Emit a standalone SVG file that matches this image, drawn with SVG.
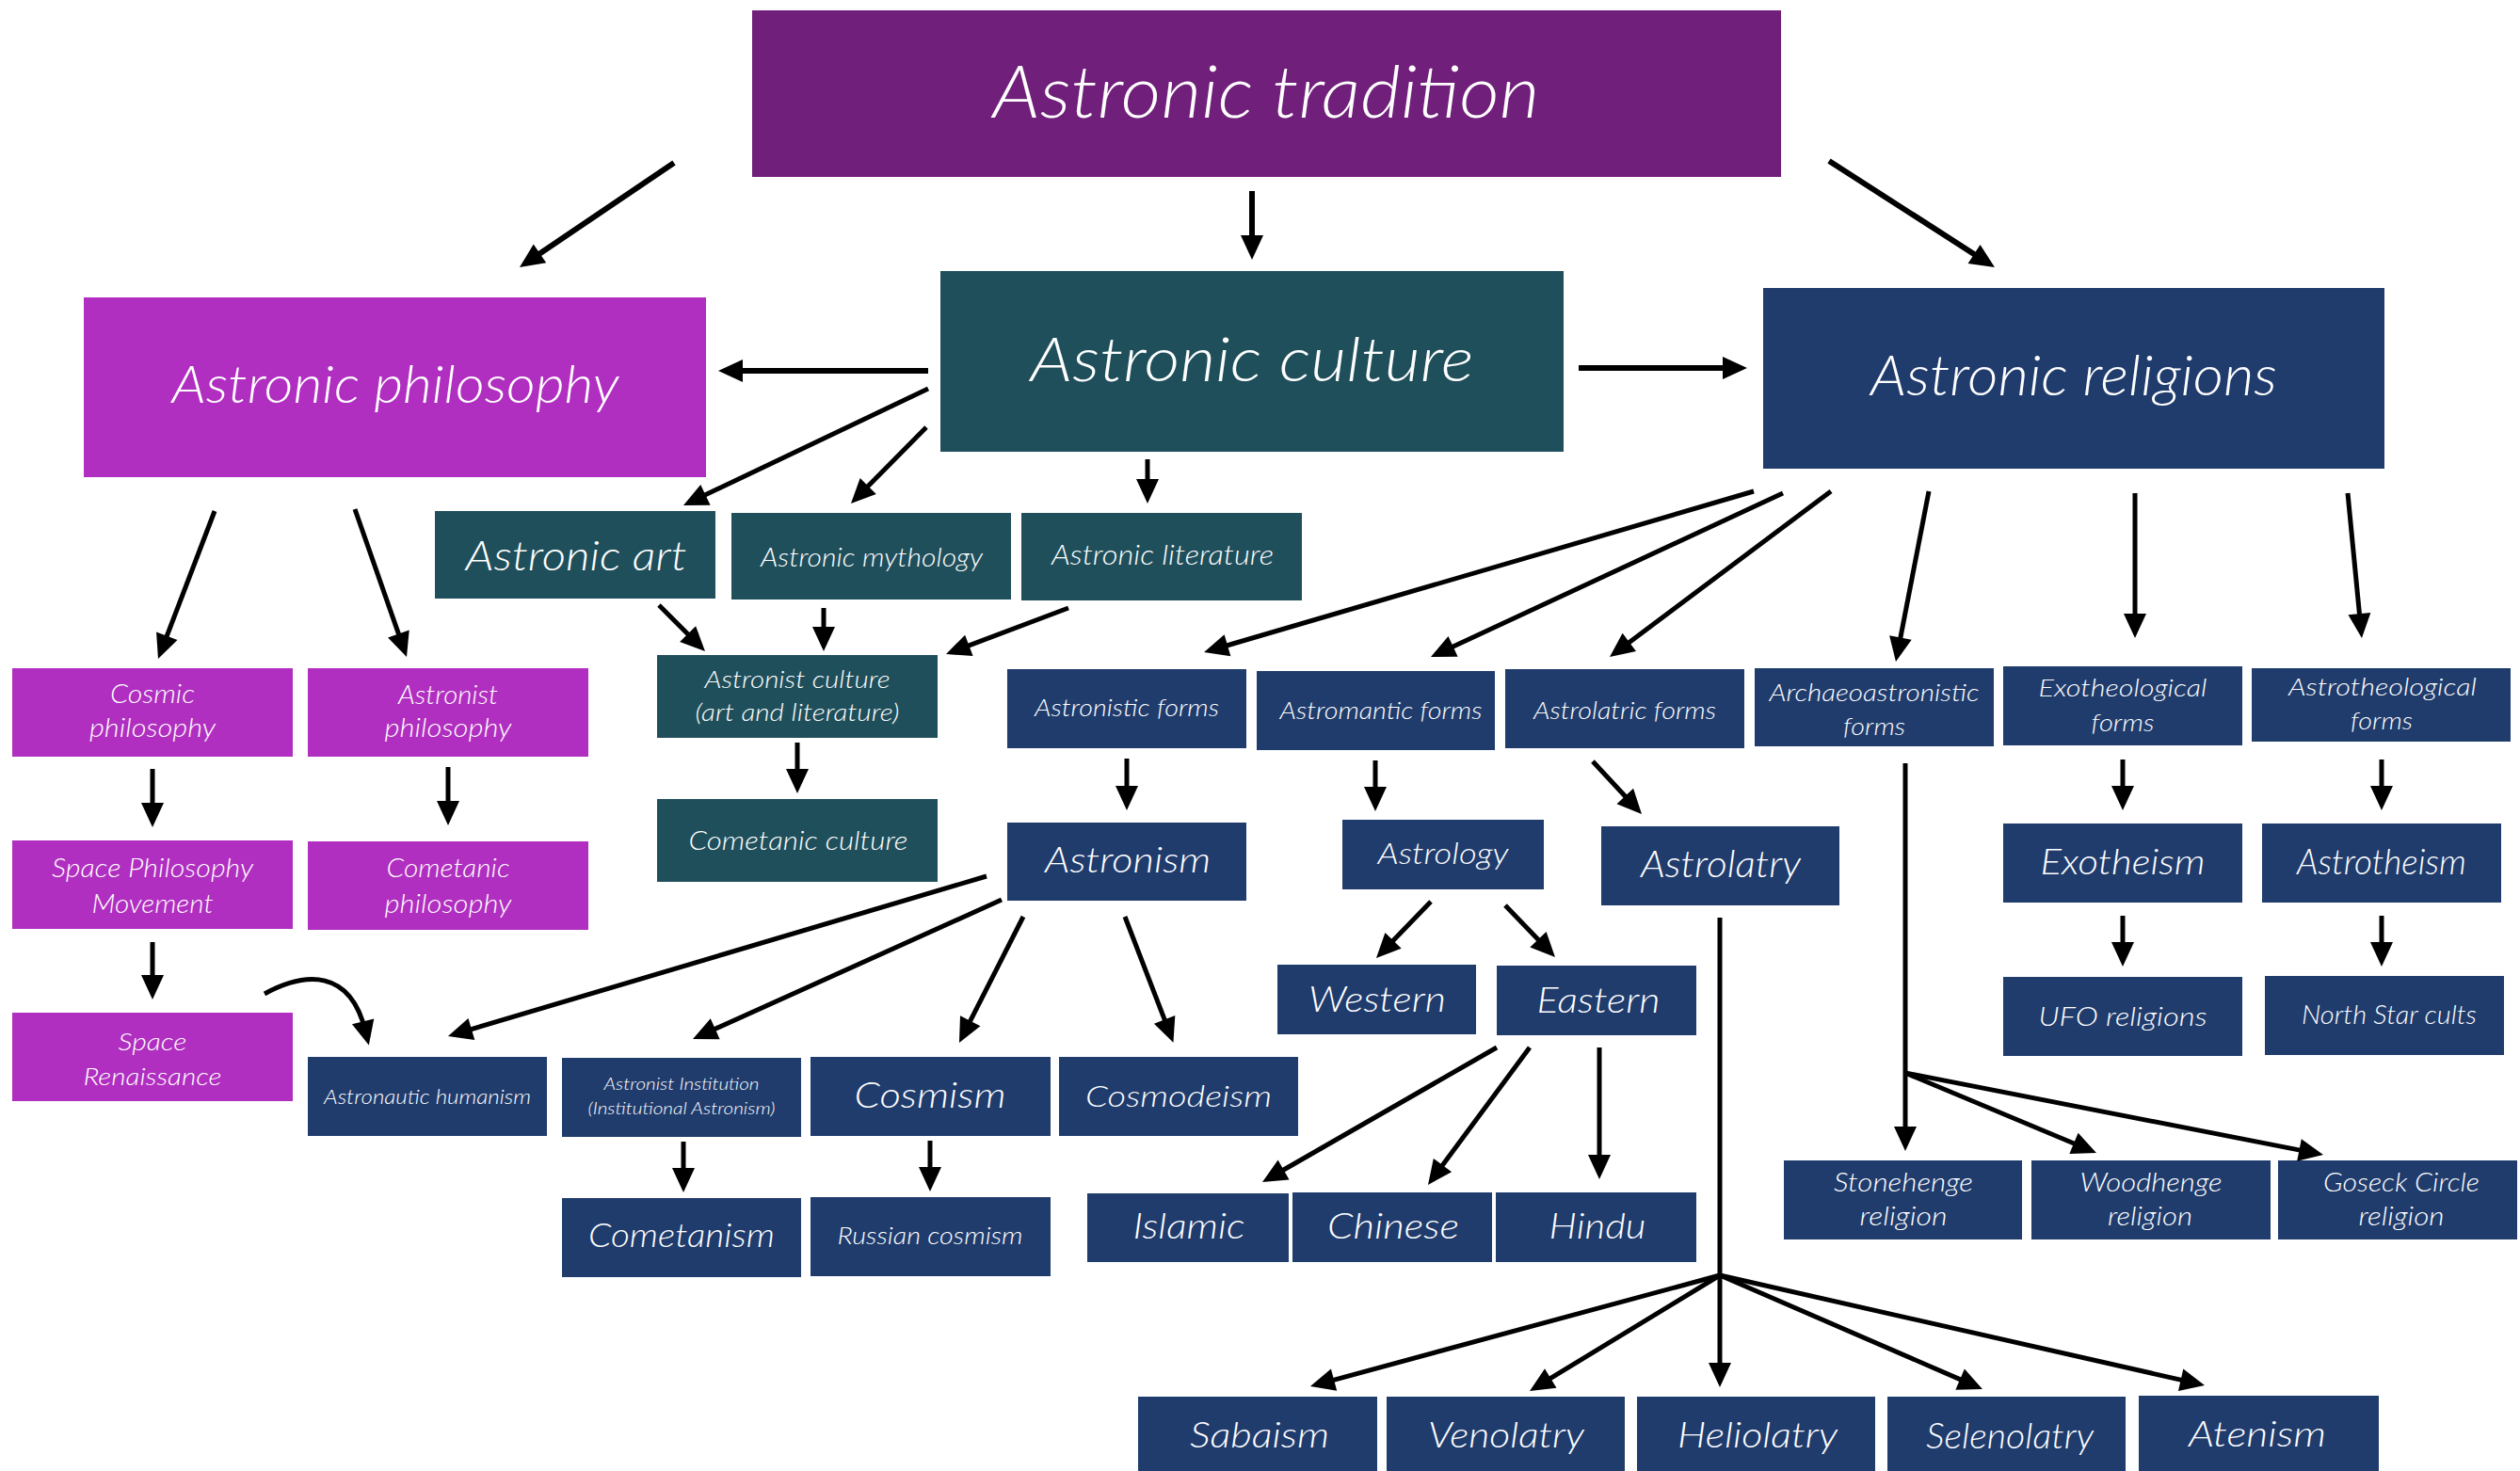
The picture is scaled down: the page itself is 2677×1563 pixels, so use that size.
<svg xmlns="http://www.w3.org/2000/svg" width="2677" height="1563" viewBox="0 0 2677 1563">
<style>
.t{font-family:Lato,"Open Sans","Liberation Sans",sans-serif;font-style:italic;font-weight:300;fill:#fff;text-anchor:middle}
.trad{fill:#701F7A}.phil{fill:#B02FC0}.cult{fill:#204F5C}.rel{fill:#203C6D}
.c path,.c line{stroke:#000;stroke-width:5;fill:none}
.c .a{marker-end:url(#ah)}
.c .w{stroke-width:6}
</style>
<defs>
<marker id="ah" markerUnits="userSpaceOnUse" markerWidth="26" markerHeight="24" refX="10" refY="12" orient="auto" overflow="visible">
<path d="M0,0 L26,12 L0,24 z" fill="#000"/>
</marker>
</defs>
<rect width="2677" height="1563" fill="#fff"/>

<g id="n-tradition"><rect class="trad" x="799" y="11" width="1093" height="177"/><text class="t" x="1345" y="125" font-size="76" textLength="581" lengthAdjust="spacingAndGlyphs">Astronic tradition</text></g>
<g id="n-culture"><rect class="cult" x="999" y="288" width="662" height="192"/><text class="t" x="1330" y="405" font-size="66" textLength="471" lengthAdjust="spacingAndGlyphs">Astronic culture</text></g>
<g id="n-religions"><rect class="rel" x="1873" y="306" width="660" height="192"/><text class="t" x="2203" y="420" font-size="60" textLength="432" lengthAdjust="spacingAndGlyphs">Astronic religions</text></g>
<g id="n-philosophy"><rect class="phil" x="89" y="316" width="661" height="191"/><text class="t" x="420" y="428" font-size="56" textLength="475" lengthAdjust="spacingAndGlyphs">Astronic philosophy</text></g>

<g id="n-art"><rect class="cult" x="462" y="543" width="298" height="93"/><text class="t" x="612" y="606" font-size="44" textLength="235" lengthAdjust="spacingAndGlyphs">Astronic art</text></g>
<g id="n-mythology"><rect class="cult" x="777" y="545" width="297" height="92"/><text class="t" x="926" y="602" font-size="28" textLength="236" lengthAdjust="spacingAndGlyphs">Astronic mythology</text></g>
<g id="n-literature"><rect class="cult" x="1085" y="545" width="298" height="93"/><text class="t" x="1235" y="600" font-size="29" textLength="236" lengthAdjust="spacingAndGlyphs">Astronic literature</text></g>
<g id="n-astronist-culture"><rect class="cult" x="698" y="696" width="298" height="88"/><text class="t" x="847" y="731" font-size="25" textLength="197" lengthAdjust="spacingAndGlyphs">Astronist culture</text><text class="t" x="847" y="766" font-size="25" textLength="217" lengthAdjust="spacingAndGlyphs">(art and literature)</text></g>
<g id="n-cometanic-culture"><rect class="cult" x="698" y="849" width="298" height="88"/><text class="t" x="848" y="903" font-size="27" textLength="233" lengthAdjust="spacingAndGlyphs">Cometanic culture</text></g>

<g id="n-cosmic-philosophy"><rect class="phil" x="13" y="710" width="298" height="94"/><text class="t" x="162" y="747" font-size="27" textLength="90" lengthAdjust="spacingAndGlyphs">Cosmic</text><text class="t" x="162" y="783" font-size="27" textLength="134" lengthAdjust="spacingAndGlyphs">philosophy</text></g>
<g id="n-astronist-philosophy"><rect class="phil" x="327" y="710" width="298" height="94"/><text class="t" x="476" y="748" font-size="27" textLength="106" lengthAdjust="spacingAndGlyphs">Astronist</text><text class="t" x="476" y="783" font-size="27" textLength="135" lengthAdjust="spacingAndGlyphs">philosophy</text></g>
<g id="n-space-philosophy-movement"><rect class="phil" x="13" y="893" width="298" height="94"/><text class="t" x="162" y="932" font-size="27" textLength="214" lengthAdjust="spacingAndGlyphs">Space Philosophy</text><text class="t" x="162" y="970" font-size="27" textLength="129" lengthAdjust="spacingAndGlyphs">Movement</text></g>
<g id="n-cometanic-philosophy"><rect class="phil" x="327" y="894" width="298" height="94"/><text class="t" x="476" y="932" font-size="27" textLength="131" lengthAdjust="spacingAndGlyphs">Cometanic</text><text class="t" x="476" y="970" font-size="27" textLength="135" lengthAdjust="spacingAndGlyphs">philosophy</text></g>
<g id="n-space-renaissance"><rect class="phil" x="13" y="1076" width="298" height="94"/><text class="t" x="162" y="1116" font-size="26" textLength="73" lengthAdjust="spacingAndGlyphs">Space</text><text class="t" x="162" y="1153" font-size="26" textLength="147" lengthAdjust="spacingAndGlyphs">Renaissance</text></g>

<g id="n-astronautic-humanism"><rect class="rel" x="327" y="1123" width="254" height="84"/><text class="t" x="454" y="1173" font-size="22" textLength="220" lengthAdjust="spacingAndGlyphs">Astronautic humanism</text></g>
<g id="n-astronist-institution"><rect class="rel" x="597" y="1124" width="254" height="84"/><text class="t" x="724" y="1158" font-size="18" textLength="165" lengthAdjust="spacingAndGlyphs">Astronist Institution</text><text class="t" x="724" y="1184" font-size="18" textLength="199" lengthAdjust="spacingAndGlyphs">(Institutional Astronism)</text></g>
<g id="n-cosmism"><rect class="rel" x="861" y="1123" width="255" height="84"/><text class="t" x="988" y="1177" font-size="37" textLength="161" lengthAdjust="spacingAndGlyphs">Cosmism</text></g>
<g id="n-cosmodeism"><rect class="rel" x="1125" y="1123" width="254" height="84"/><text class="t" x="1252" y="1176" font-size="32" textLength="198" lengthAdjust="spacingAndGlyphs">Cosmodeism</text></g>
<g id="n-cometanism"><rect class="rel" x="597" y="1273" width="254" height="84"/><text class="t" x="724" y="1325" font-size="35" textLength="198" lengthAdjust="spacingAndGlyphs">Cometanism</text></g>
<g id="n-russian-cosmism"><rect class="rel" x="861" y="1272" width="255" height="84"/><text class="t" x="988" y="1322" font-size="25" textLength="197" lengthAdjust="spacingAndGlyphs">Russian cosmism</text></g>

<g id="n-astronistic-forms"><rect class="rel" x="1070" y="711" width="254" height="84"/><text class="t" x="1197" y="761" font-size="26" textLength="196" lengthAdjust="spacingAndGlyphs">Astronistic forms</text></g>
<g id="n-astromantic-forms"><rect class="rel" x="1335" y="713" width="253" height="84"/><text class="t" x="1467" y="764" font-size="26" textLength="215" lengthAdjust="spacingAndGlyphs">Astromantic forms</text></g>
<g id="n-astrolatric-forms"><rect class="rel" x="1599" y="711" width="254" height="84"/><text class="t" x="1726" y="764" font-size="26" textLength="194" lengthAdjust="spacingAndGlyphs">Astrolatric forms</text></g>
<g id="n-archaeoastronistic-forms"><rect class="rel" x="1864" y="710" width="254" height="83"/><text class="t" x="1991" y="745" font-size="26" textLength="223" lengthAdjust="spacingAndGlyphs">Archaeoastronistic</text><text class="t" x="1991" y="781" font-size="26" textLength="66" lengthAdjust="spacingAndGlyphs">forms</text></g>
<g id="n-exotheological-forms"><rect class="rel" x="2128" y="708" width="254" height="84"/><text class="t" x="2255" y="740" font-size="26" textLength="179" lengthAdjust="spacingAndGlyphs">Exotheological</text><text class="t" x="2255" y="777" font-size="26" textLength="67" lengthAdjust="spacingAndGlyphs">forms</text></g>
<g id="n-astrotheological-forms"><rect class="rel" x="2392" y="710" width="275" height="78"/><text class="t" x="2531" y="739" font-size="26" textLength="200" lengthAdjust="spacingAndGlyphs">Astrotheological</text><text class="t" x="2530" y="775" font-size="26" textLength="66" lengthAdjust="spacingAndGlyphs">forms</text></g>

<g id="n-astronism"><rect class="rel" x="1070" y="874" width="254" height="83"/><text class="t" x="1198" y="927" font-size="37" textLength="176" lengthAdjust="spacingAndGlyphs">Astronism</text></g>
<g id="n-astrology"><rect class="rel" x="1426" y="871" width="214" height="74"/><text class="t" x="1533" y="918" font-size="32" textLength="139" lengthAdjust="spacingAndGlyphs">Astrology</text></g>
<g id="n-astrolatry"><rect class="rel" x="1701" y="878" width="253" height="84"/><text class="t" x="1828" y="932" font-size="39" textLength="170" lengthAdjust="spacingAndGlyphs">Astrolatry</text></g>
<g id="n-exotheism"><rect class="rel" x="2128" y="875" width="254" height="84"/><text class="t" x="2255" y="929" font-size="37" textLength="175" lengthAdjust="spacingAndGlyphs">Exotheism</text></g>
<g id="n-astrotheism"><rect class="rel" x="2403" y="875" width="254" height="84"/><text class="t" x="2530" y="929" font-size="37" textLength="180" lengthAdjust="spacingAndGlyphs">Astrotheism</text></g>

<g id="n-western"><rect class="rel" x="1357" y="1025" width="211" height="74"/><text class="t" x="1463" y="1075" font-size="38" textLength="146" lengthAdjust="spacingAndGlyphs">Western</text></g>
<g id="n-eastern"><rect class="rel" x="1590" y="1026" width="212" height="74"/><text class="t" x="1698" y="1076" font-size="38" textLength="131" lengthAdjust="spacingAndGlyphs">Eastern</text></g>
<g id="n-islamic"><rect class="rel" x="1155" y="1268" width="214" height="73"/><text class="t" x="1263" y="1316" font-size="38" textLength="119" lengthAdjust="spacingAndGlyphs">Islamic</text></g>
<g id="n-chinese"><rect class="rel" x="1373" y="1267" width="212" height="74"/><text class="t" x="1480" y="1316" font-size="38" textLength="140" lengthAdjust="spacingAndGlyphs">Chinese</text></g>
<g id="n-hindu"><rect class="rel" x="1589" y="1267" width="213" height="74"/><text class="t" x="1697" y="1316" font-size="38" textLength="103" lengthAdjust="spacingAndGlyphs">Hindu</text></g>

<g id="n-ufo-religions"><rect class="rel" x="2128" y="1038" width="254" height="84"/><text class="t" x="2255" y="1090" font-size="28" textLength="179" lengthAdjust="spacingAndGlyphs">UFO religions</text></g>
<g id="n-north-star-cults"><rect class="rel" x="2406" y="1037" width="254" height="84"/><text class="t" x="2538" y="1088" font-size="28" textLength="186" lengthAdjust="spacingAndGlyphs">North Star cults</text></g>
<g id="n-stonehenge"><rect class="rel" x="1895" y="1233" width="253" height="84"/><text class="t" x="2022" y="1266" font-size="28" textLength="148" lengthAdjust="spacingAndGlyphs">Stonehenge</text><text class="t" x="2022" y="1302" font-size="28" textLength="93" lengthAdjust="spacingAndGlyphs">religion</text></g>
<g id="n-woodhenge"><rect class="rel" x="2158" y="1233" width="254" height="84"/><text class="t" x="2285" y="1266" font-size="28" textLength="151" lengthAdjust="spacingAndGlyphs">Woodhenge</text><text class="t" x="2284" y="1302" font-size="28" textLength="90" lengthAdjust="spacingAndGlyphs">religion</text></g>
<g id="n-goseck"><rect class="rel" x="2420" y="1233" width="254" height="84"/><text class="t" x="2551" y="1266" font-size="28" textLength="166" lengthAdjust="spacingAndGlyphs">Goseck Circle</text><text class="t" x="2551" y="1302" font-size="28" textLength="91" lengthAdjust="spacingAndGlyphs">religion</text></g>

<g id="n-sabaism"><rect class="rel" x="1209" y="1484" width="254" height="84"/><text class="t" x="1338" y="1538" font-size="38" textLength="148" lengthAdjust="spacingAndGlyphs">Sabaism</text></g>
<g id="n-venolatry"><rect class="rel" x="1473" y="1484" width="253" height="84"/><text class="t" x="1600" y="1538" font-size="38" textLength="166" lengthAdjust="spacingAndGlyphs">Venolatry</text></g>
<g id="n-heliolatry"><rect class="rel" x="1739" y="1484" width="253" height="84"/><text class="t" x="1867" y="1538" font-size="38" textLength="170" lengthAdjust="spacingAndGlyphs">Heliolatry</text></g>
<g id="n-selenolatry"><rect class="rel" x="2005" y="1484" width="253" height="84"/><text class="t" x="2135" y="1539" font-size="38" textLength="178" lengthAdjust="spacingAndGlyphs">Selenolatry</text></g>
<g id="n-atenism"><rect class="rel" x="2272" y="1483" width="255" height="85"/><text class="t" x="2398" y="1537" font-size="38" textLength="146" lengthAdjust="spacingAndGlyphs">Atenism</text></g>

<g id="connectors" class="c">
<path class="a w" d="M716,173 L565.2,275"/>
<path class="a w" d="M1330,203 L1330,260"/>
<path class="a w" d="M1943,171 L2105.5,275.4"/>
<path class="a w" d="M986,394 L779,394"/>
<path class="a w" d="M1677,391 L1840,391"/>
<path class="a" d="M986,413 L740.4,530.1"/>
<path class="a" d="M984,454 L915.2,523.6"/>
<path class="a" d="M1219,488 L1219,519"/>
<path class="a" d="M228,543 L173.7,685.1"/>
<path class="a" d="M377,541 L426.7,682.9"/>
<path class="a" d="M162,817 L162,863"/>
<path class="a" d="M476,815 L476,861"/>
<path class="a" d="M162,1001 L162,1046"/>
<path class="a" d="M281,1056 C325,1032 372,1030 388,1095"/>
<path class="a" d="M1135,646 L1020,689.4"/>
<path class="a" d="M700,643 L737.7,680.7"/>
<path class="a" d="M875,646 L875,676"/>
<path class="a" d="M847,789 L847,827"/>
<path class="a" d="M1863,522 L1294.4,688.5"/>
<path class="a" d="M1894,524 L1534.5,691.2"/>
<path class="a" d="M1945,522 L1722.8,688.4"/>
<path class="a" d="M2049,522 L2017,687.3"/>
<path class="a" d="M2268,524 L2268,662"/>
<path class="a" d="M2494,524 L2507.4,662.1"/>
<path class="a" d="M1197,806 L1197,845"/>
<path class="a" d="M1461,808 L1461,846"/>
<path class="a" d="M1692,809 L1733.1,853.3"/>
<path class="a" d="M1520,958 L1473.1,1006.5"/>
<path class="a" d="M1599,962 L1640.9,1005.5"/>
<path class="a" d="M1590,1113 L1354.9,1248"/>
<path class="a" d="M1625,1113 L1526.5,1246.1"/>
<path class="a" d="M1699,1113 L1699,1237"/>
<path d="M1827,975 L1827,1355"/>
<path class="a" d="M1827,1355 L1407.4,1468.8"/>
<path class="a" d="M1827,1355 L1638.7,1469.7"/>
<path class="a" d="M1827,1355 L1827,1458"/>
<path class="a" d="M1827,1355 L2091.3,1469.6"/>
<path class="a" d="M1827,1355 L2326.4,1468.4"/>
<path d="M2024,811 L2024,1140"/>
<path class="a" d="M2024,1140 L2024,1207"/>
<path class="a" d="M2024,1140 L2212.2,1218.8"/>
<path class="a" d="M2024,1140 L2452.3,1223.9"/>
<path class="a" d="M2255,807 L2255,845"/>
<path class="a" d="M2530,807 L2530,845"/>
<path class="a" d="M2255,973 L2255,1011"/>
<path class="a" d="M2530,973 L2530,1011"/>
<path class="a" d="M1048,931 L491.3,1096.4"/>
<path class="a" d="M1064,956 L750.6,1097.4"/>
<path class="a" d="M1087,974 L1026.2,1093.7"/>
<path class="a" d="M1195,974 L1240.7,1092.7"/>
<path class="a" d="M726,1213 L726,1251"/>
<path class="a" d="M988,1212 L988,1250"/>
</g>
</svg>
